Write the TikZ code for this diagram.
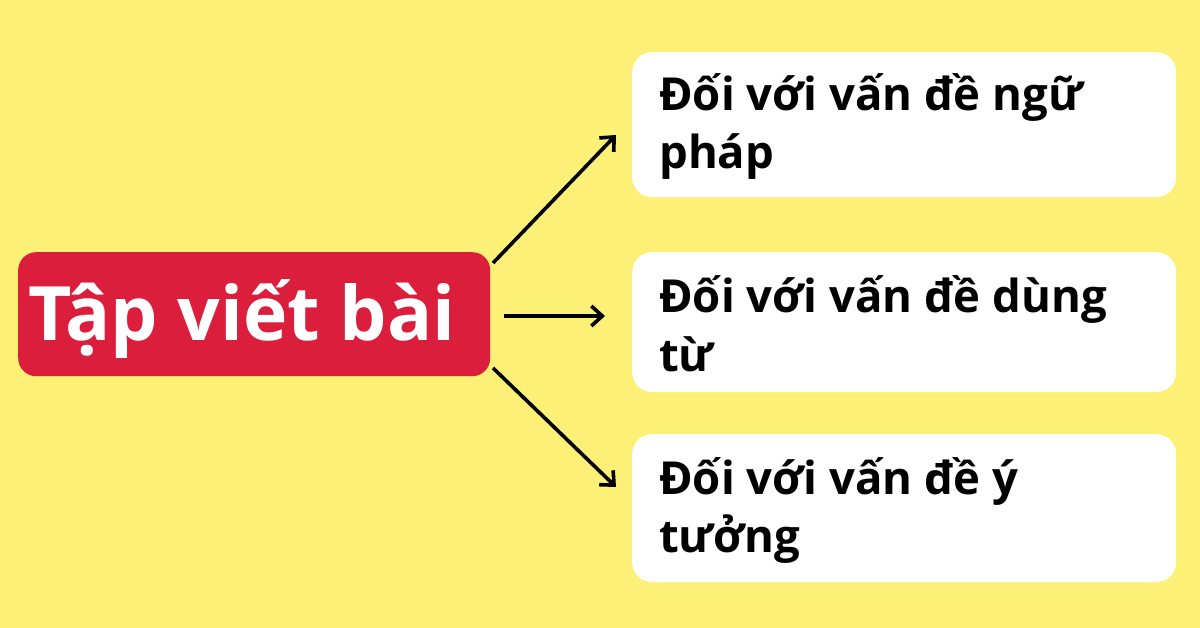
\documentclass[tikz,border=0pt]{standalone}
\usepackage{fontspec}
\setmainfont{Open Sans}
\usetikzlibrary{arrows.meta}
\definecolor{bgyellow}{RGB}{253,240,118}
\definecolor{titlered}{RGB}{218,30,60}
\begin{document}
\begin{tikzpicture}[x=1pt,y=-1pt,
  card/.style={fill=white, draw=none, rounded corners=20pt, inner sep=0pt, anchor=north west},
  rootbox/.style={fill=titlered, draw=none, rounded corners=18pt, inner sep=0pt, anchor=north west},
  cardtext/.style={anchor=base west, inner sep=0pt, font=\fontsize{45.5}{54}\selectfont\bfseries, text=black},
  roottext/.style={anchor=base west, inner sep=0pt, font=\fontsize{75}{80}\selectfont\bfseries, text=white},
  link/.style={draw=black, line width=3.6pt, -{Straight Barb[length=11pt, width=20pt, line width=3.6pt]}}
]
\fill[bgyellow] (0,0) rectangle (1200,628);
\useasboundingbox (0,0) rectangle (1200,628);

% root
\node[rootbox, minimum width=472pt, minimum height=124pt] (root) at (18,252) {};
\node[roottext] (roottxt) at (28,341) {Tập viết bài};

% cards
\node[card, minimum width=544pt, minimum height=145pt] (c1) at (632,52) {};
\node[card, minimum width=544pt, minimum height=140pt] (c2) at (632,252) {};
\node[card, minimum width=544pt, minimum height=148pt] (c3) at (632,434) {};

\node[cardtext] (c1a) at (659,111) {Đối với vấn đề ngữ};
\node[cardtext] (c1b) at (659,169) {pháp};
\node[cardtext] (c2a) at (659,313) {Đối với vấn đề dùng};
\node[cardtext] (c2b) at (659,372) {từ};
\node[cardtext] (c3a) at (659,494) {Đối với vấn đề ý};
\node[cardtext] (c3b) at (659,552) {tưởng};

% arrow end points
\coordinate (s1) at (493,263);
\coordinate (e1) at (616,135);
\coordinate (s2) at (504,316);
\coordinate (e2) at (605,316);
\coordinate (s3) at (493,368);
\coordinate (e3) at (616,487);

\draw[link] (s1) -- (e1);
\draw[link] (s2) -- (e2);
\draw[link] (s3) -- (e3);
\end{tikzpicture}
\end{document}
